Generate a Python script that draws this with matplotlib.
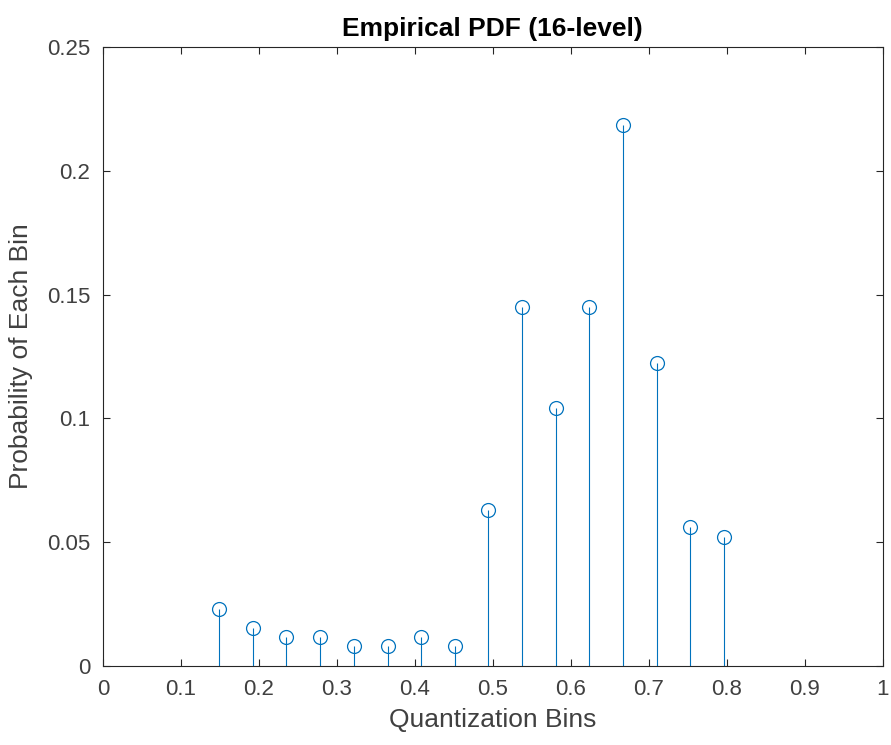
import matplotlib
matplotlib.use("Agg")
import matplotlib.pyplot as plt
import numpy as np

plt.rcParams['font.family'] = ['Liberation Sans', 'DejaVu Sans']

# 16-level quantization bins and their empirical probabilities
bins = [0.149, 0.192, 0.235, 0.278, 0.322, 0.365, 0.408, 0.451,
        0.494, 0.537, 0.581, 0.624, 0.667, 0.710, 0.753, 0.796]
probs = [0.0230, 0.0155, 0.0117, 0.0117, 0.0080, 0.0080, 0.0117, 0.0080,
         0.0630, 0.1450, 0.1040, 0.1450, 0.2185, 0.1225, 0.0560, 0.0522]

xticks = np.arange(0, 1.01, 0.1)
yticks = np.arange(0, 0.251, 0.05)

blue = '#0072BD'

fig = plt.figure(figsize=(8.91, 7.45), dpi=100)
ax = fig.add_axes([0.1156, 0.106, 0.875, 0.831])

ml, sl, bl = ax.stem(bins, probs, basefmt=' ')
plt.setp(sl, color=blue, linewidth=0.8)
plt.setp(ml, marker='o', markersize=10, markerfacecolor='none',
         markeredgecolor=blue, markeredgewidth=0.9)

ax.set_xlim(0, 1)
ax.set_ylim(0, 0.25)
ax.set_xticks(xticks)
ax.set_xticklabels(['0', '0.1', '0.2', '0.3', '0.4', '0.5', '0.6', '0.7', '0.8', '0.9', '1'])
ax.set_yticks(yticks)
ax.set_yticklabels(['0', '0.05', '0.1', '0.15', '0.2', '0.25'])
ax.tick_params(direction='in', top=True, right=True, length=5, width=0.8,
               colors='#262626', labelcolor='#404040', labelsize=16, pad=9)
for s in ax.spines.values():
    s.set_color('#262626')
    s.set_linewidth(0.8)

ax.set_title('Empirical PDF (16-level)', fontsize=19, fontweight='bold', pad=8)
ax.set_xlabel('Quantization Bins', fontsize=19, color='#404040', labelpad=6)
ax.set_ylabel('Probability of Each Bin', fontsize=19, color='#404040', labelpad=10)

plt.savefig('out.png', dpi=100)
plt.close()
